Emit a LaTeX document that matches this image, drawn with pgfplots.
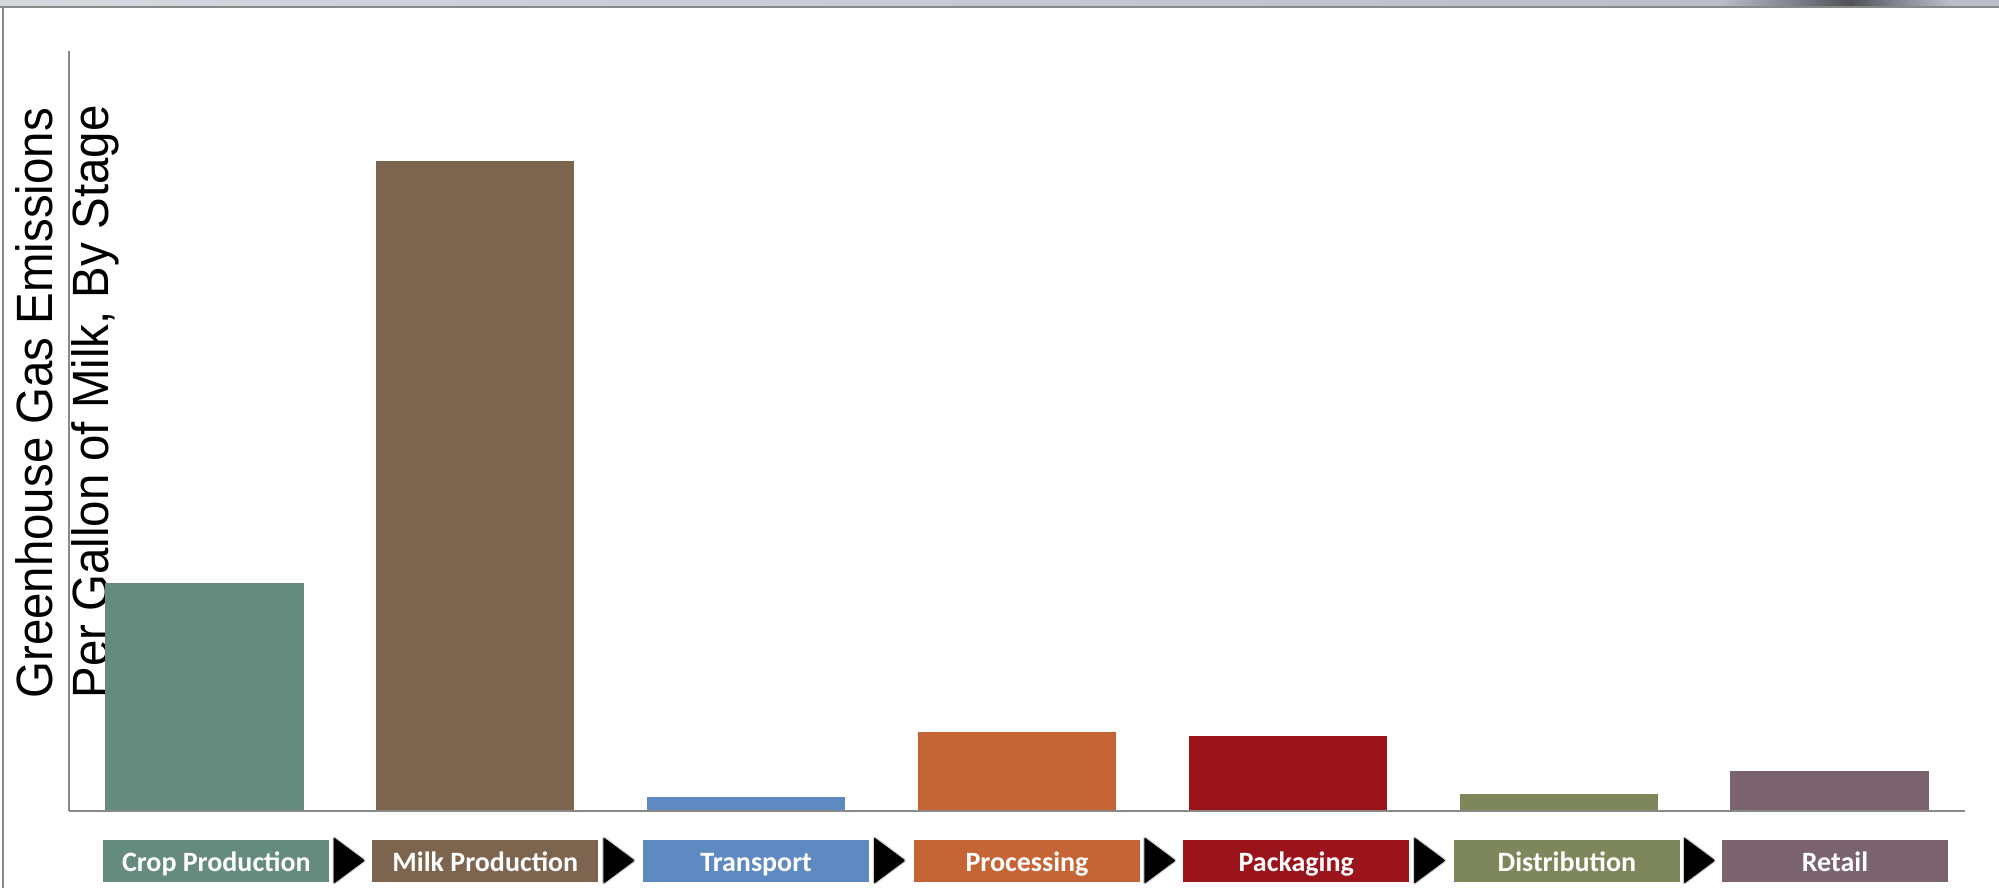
\documentclass[border=0pt]{standalone}
\usepackage{fontspec}
\setmainfont{Liberation Sans}
\newfontfamily\boxfont{Carlito}
\usepackage{pgfplots}
\pgfplotsset{compat=1.18}
\definecolor{cCrop}{RGB}{101,139,127}
\definecolor{cMilk}{RGB}{124,100,78}
\definecolor{cTrans}{RGB}{94,137,193}
\definecolor{cProc}{RGB}{197,101,53}
\definecolor{cPack}{RGB}{155,20,28}
\definecolor{cDist}{RGB}{126,135,92}
\definecolor{cRet}{RGB}{122,98,111}
\definecolor{axgray}{RGB}{137,137,137}
\definecolor{strip}{RGB}{185,190,199}
\definecolor{stripdark}{RGB}{80,82,88}
\tikzset{boxlab/.style={minimum width=113pt, minimum height=21pt, inner sep=0pt, text height=11pt, text depth=0pt, text=white, font=\boxfont\bfseries\fontsize{14}{16}\selectfont},
  stagearrow/.style={fill=black, draw=gray!40, line width=0.5pt, rounded corners=1.2pt}}
\begin{document}
\begin{tikzpicture}
\useasboundingbox (0,0) rectangle (999.5pt,-444pt);
% window frame
\fill[left color=strip!60, right color=strip] (0,0) rectangle (860pt,-3.2pt);
\fill[left color=strip, right color=stripdark] (860pt,0) rectangle (925pt,-3.2pt);
\fill[left color=stripdark, right color=strip] (925pt,0) rectangle (975pt,-3.2pt);
\fill[strip] (975pt,0) rectangle (999.5pt,-3.2pt);
\draw[axgray, line width=0.9pt] (0,-3.4pt) -- (999.5pt,-3.4pt);
\draw[axgray, line width=0.9pt] (1.6pt,-3.4pt) -- (1.6pt,-444pt);
% y label
\node[rotate=90, anchor=base west, inner sep=0pt, font=\fontsize{25.5}{28}\selectfont] at (26pt,-349.5pt) {\scalebox{0.93}[1]{Greenhouse Gas Emissions}};
\node[rotate=90, anchor=base west, inner sep=0pt, font=\fontsize{25.5}{28}\selectfont] at (54pt,-349.5pt) {\scalebox{0.93}[1]{Per Gallon of Milk, By Stage}};
\begin{axis}[
  at={(34.5pt,-405.5pt)}, anchor=south west,
  scale only axis, width=948pt, height=380pt,
  xmin=-0.5, xmax=6.5, ymin=0, ymax=7.6,
  axis x line*=bottom, axis y line*=left,
  axis line style={draw=axgray, line width=1pt},
  ticks=none, clip=false, axis on top,
  ybar, bar width=0.732, bar shift=0pt,
]
\addplot[fill=cCrop, draw=none] coordinates {(0,2.28)};
\addplot[fill=cMilk, draw=none] coordinates {(1,6.50)};
\addplot[fill=cTrans, draw=none] coordinates {(2,0.14)};
\addplot[fill=cProc, draw=none] coordinates {(3,0.79)};
\addplot[fill=cPack, draw=none] coordinates {(4,0.75)};
\addplot[fill=cDist, draw=none] coordinates {(5,0.17)};
\addplot[fill=cRet, draw=none] coordinates {(6,0.40)};
% stage boxes
\node[boxlab, fill=cCrop] at (axis cs:0.044,0) [yshift=-24.75pt] {Crop Production};
\node[boxlab, fill=cMilk] at (axis cs:1.037,0) [yshift=-24.75pt] {Milk Production};
\node[boxlab, fill=cTrans] at (axis cs:2.037,0) [yshift=-24.75pt] {Transport};
\node[boxlab, fill=cProc] at (axis cs:3.037,0) [yshift=-24.75pt] {Processing};
\node[boxlab, fill=cPack] at (axis cs:4.031,0) [yshift=-24.75pt] {Packaging};
\node[boxlab, fill=cDist] at (axis cs:5.030,0) [yshift=-24.75pt] {Distribution};
\node[boxlab, fill=cRet] at (axis cs:6.020,0) [yshift=-24.75pt] {Retail};
% arrows
\filldraw[stagearrow] (axis cs:0.536,0) ++(-8.25pt,-12.5pt) -- ++(16.5pt,-12.25pt) -- ++(-16.5pt,-12.25pt) -- cycle;
\filldraw[stagearrow] (axis cs:1.532,0) ++(-8.25pt,-12.5pt) -- ++(16.5pt,-12.25pt) -- ++(-16.5pt,-12.25pt) -- cycle;
\filldraw[stagearrow] (axis cs:2.531,0) ++(-8.25pt,-12.5pt) -- ++(16.5pt,-12.25pt) -- ++(-16.5pt,-12.25pt) -- cycle;
\filldraw[stagearrow] (axis cs:3.529,0) ++(-8.25pt,-12.5pt) -- ++(16.5pt,-12.25pt) -- ++(-16.5pt,-12.25pt) -- cycle;
\filldraw[stagearrow] (axis cs:4.525,0) ++(-8.25pt,-12.5pt) -- ++(16.5pt,-12.25pt) -- ++(-16.5pt,-12.25pt) -- cycle;
\filldraw[stagearrow] (axis cs:5.521,0) ++(-8.25pt,-12.5pt) -- ++(16.5pt,-12.25pt) -- ++(-16.5pt,-12.25pt) -- cycle;
\end{axis}
\end{tikzpicture}
\end{document}
